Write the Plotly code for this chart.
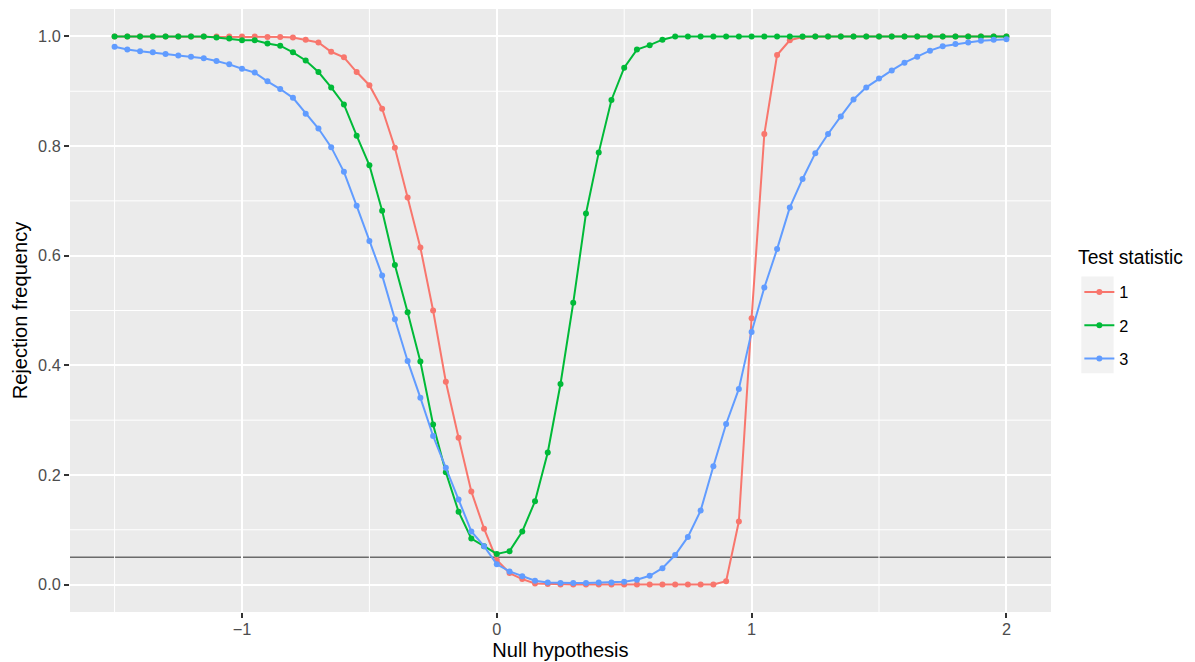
import plotly.graph_objects as go

null_hypothesis = [
    -1.5, -1.45, -1.4, -1.35, -1.3, -1.25, -1.2, -1.15, -1.1, -1.05,
    -1.0, -0.95, -0.9, -0.85, -0.8, -0.75, -0.7, -0.65, -0.6, -0.55,
    -0.5, -0.45, -0.4, -0.35, -0.3, -0.25, -0.2, -0.15, -0.1, -0.05,
    0.0, 0.05, 0.1, 0.15, 0.2, 0.25, 0.3, 0.35, 0.4, 0.45,
    0.5, 0.55, 0.6, 0.65, 0.7, 0.75, 0.8, 0.85, 0.9, 0.95,
    1.0, 1.05, 1.1, 1.15, 1.2, 1.25, 1.3, 1.35, 1.4, 1.45,
    1.5, 1.55, 1.6, 1.65, 1.7, 1.75, 1.8, 1.85, 1.9, 1.95, 2.0,
]

stat1 = [
    1.0, 1.0, 1.0, 1.0, 1.0, 1.0, 1.0, 1.0, 1.0, 1.0,
    1.0, 1.0, 0.999, 0.999, 0.998, 0.994, 0.989, 0.972, 0.962, 0.935,
    0.911, 0.868, 0.797, 0.706, 0.615, 0.500, 0.370, 0.268, 0.170, 0.102,
    0.045, 0.021, 0.010, 0.002, 0.001, 0.0, 0.0, 0.0, 0.0, 0.0,
    0.0, 0.0, 0.0, 0.0, 0.0, 0.0, 0.0, 0.0, 0.006, 0.115,
    0.486, 0.822, 0.966, 0.993, 0.999, 1.0, 1.0, 1.0, 1.0, 1.0,
    1.0, 1.0, 1.0, 1.0, 1.0, 1.0, 1.0, 1.0, 1.0, 1.0, 1.0,
]

stat2 = [
    1.0, 1.0, 1.0, 1.0, 1.0, 1.0, 1.0, 1.0, 0.998, 0.996,
    0.993, 0.993, 0.987, 0.983, 0.971, 0.956, 0.935, 0.907, 0.876, 0.819,
    0.765, 0.682, 0.583, 0.497, 0.407, 0.292, 0.205, 0.133, 0.084, 0.070,
    0.056, 0.061, 0.097, 0.152, 0.241, 0.366, 0.514, 0.677, 0.788, 0.884,
    0.943, 0.976, 0.984, 0.994, 1.0, 1.0, 1.0, 1.0, 1.0, 1.0,
    1.0, 1.0, 1.0, 1.0, 1.0, 1.0, 1.0, 1.0, 1.0, 1.0,
    1.0, 1.0, 1.0, 1.0, 1.0, 1.0, 1.0, 1.0, 1.0, 1.0, 1.0,
]

stat3 = [
    0.981, 0.976, 0.973, 0.971, 0.968, 0.965, 0.963, 0.960, 0.955, 0.949,
    0.941, 0.934, 0.918, 0.904, 0.888, 0.859, 0.832, 0.798, 0.753, 0.691,
    0.627, 0.564, 0.484, 0.408, 0.341, 0.271, 0.213, 0.155, 0.097, 0.070,
    0.037, 0.024, 0.015, 0.007, 0.004, 0.003, 0.003, 0.003, 0.004, 0.004,
    0.005, 0.009, 0.016, 0.030, 0.054, 0.087, 0.135, 0.216, 0.293, 0.357,
    0.461, 0.542, 0.612, 0.688, 0.740, 0.787, 0.822, 0.854, 0.885, 0.907,
    0.923, 0.938, 0.952, 0.963, 0.974, 0.982, 0.986, 0.989, 0.992, 0.994, 0.995,
]

series_names = ["1", "2", "3"]
series_values = [stat1, stat2, stat3]
series_colors = ["#F8766D", "#00BA38", "#619CFF"]

nominal_level = 0.05

x_ticks = [-1, 0, 1, 2]
x_tick_labels = ["\u22121", "0", "1", "2"]
y_ticks = [0.0, 0.2, 0.4, 0.6, 0.8, 1.0]
y_tick_labels = ["0.0", "0.2", "0.4", "0.6", "0.8", "1.0"]
x_minor = [-1.5, -0.5, 0.5, 1.5]
y_minor = [0.1, 0.3, 0.5, 0.7, 0.9]

FONT = "Liberation Sans, Arial, Helvetica, sans-serif"
TICK_SIZE = 16.3
TITLE_SIZE = 20.1

fig = go.Figure()

for name, vals, col in zip(series_names, series_values, series_colors):
    fig.add_trace(go.Scatter(
        x=null_hypothesis, y=vals, name=name, mode="lines+markers",
        line=dict(color=col, width=2),
        marker=dict(color=col, size=6),
        legendgroup=name,
    ))

# horizontal reference line at nominal level
fig.add_shape(type="line", xref="paper", x0=0, x1=1, yref="y",
              y0=nominal_level, y1=nominal_level,
              line=dict(color="#6b6b6b", width=1.6), layer="between")

# minor grid lines
for xm in x_minor:
    fig.add_shape(type="line", xref="x", x0=xm, x1=xm, yref="paper", y0=0, y1=1,
                  line=dict(color="#ffffff", width=1), layer="between")
for ym in y_minor:
    fig.add_shape(type="line", xref="paper", x0=0, x1=1, yref="y", y0=ym, y1=ym,
                  line=dict(color="#ffffff", width=1), layer="between")

# legend key background
fig.add_shape(type="rect", xref="paper", yref="paper",
              x0=1.0309, x1=1.0638, y0=0.3958, y1=0.5562,
              fillcolor="#f2f2f2", line=dict(width=0), layer="below")

# legend title
fig.add_annotation(text="Test statistic", xref="paper", yref="paper",
                   x=1.0253, y=0.5879, xanchor="left", yanchor="middle",
                   showarrow=False, font=dict(size=19.3, color="#000000", family=FONT))

fig.update_layout(
    width=1187, height=654,
    margin=dict(l=62, r=144, t=1, b=50, autoexpand=False),
    paper_bgcolor="#ffffff",
    plot_bgcolor="#ebebeb",
    font=dict(family=FONT, color="#4d4d4d"),
    showlegend=True,
    legend=dict(
        font=dict(size=TICK_SIZE, color="#000000", family=FONT),
        x=1.0289, xanchor="left", y=0.559, yanchor="top",
        bgcolor="rgba(0,0,0,0)", tracegroupgap=9, traceorder="grouped",
        itemwidth=30,
    ),
    xaxis=dict(
        range=[-1.675, 2.175], tickmode="array", tickvals=x_ticks, ticktext=x_tick_labels,
        showgrid=True, gridcolor="#ffffff", gridwidth=2, zeroline=False,
        ticks="outside", ticklen=5, tickwidth=1.8, tickcolor="#333333",
        tickfont=dict(size=TICK_SIZE, color="#4d4d4d", family=FONT),
        ticklabelstandoff=-3,
        title=dict(text="Null hypothesis", font=dict(size=TITLE_SIZE, color="#000000", family=FONT), standoff=6),
        showline=False, automargin=False,
    ),
    yaxis=dict(
        range=[-0.05, 1.05], tickmode="array", tickvals=y_ticks, ticktext=y_tick_labels,
        showgrid=True, gridcolor="#ffffff", gridwidth=2, zeroline=False,
        ticks="outside", ticklen=5, tickwidth=1.8, tickcolor="#333333",
        tickfont=dict(size=TICK_SIZE, color="#4d4d4d", family=FONT),
        title=dict(text="Rejection frequency", font=dict(size=TITLE_SIZE, color="#000000", family=FONT), standoff=5),
        showline=False, automargin=False,
    ),
)

fig.write_html("out.html")
